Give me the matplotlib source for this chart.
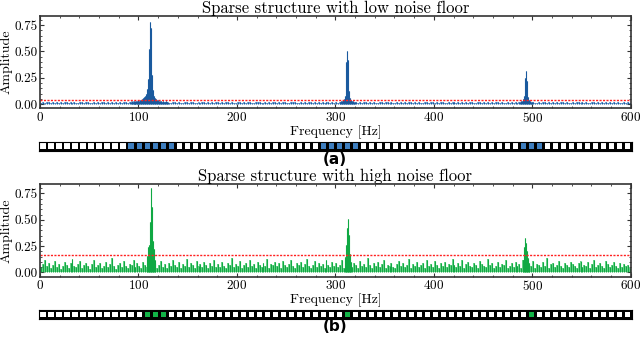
import numpy as np
import matplotlib
matplotlib.use("Agg")
import matplotlib.pyplot as plt
from matplotlib.ticker import MultipleLocator

# ---- data ---------------------------------------------------------------
NOISE_STEP = 2  # Hz per noise bar

# low-noise spectrum floor (amplitude * 1000), 0..598 Hz
NOISE_A = [
    14, 18, 12, 20, 16, 11, 19, 15, 22, 13, 17, 12, 18, 21, 14, 16, 10, 19, 15, 13, 20, 17, 12, 16, 23, 14, 11, 18, 15, 19,
    13, 17, 21, 12, 16, 14, 19, 11, 18, 15, 22, 13, 17, 20, 12, 16, 14, 18, 24, 15, 12, 19, 16, 13, 21, 17, 14, 18, 12, 20,
    15, 13, 19, 16, 22, 14, 11, 18, 17, 13, 20, 15, 12, 19, 16, 14, 21, 18, 13, 15, 17, 12, 20, 16, 14, 19, 13, 18, 15, 22,
    16, 12, 18, 14, 20, 17, 13, 19, 15, 11, 21, 16, 14, 18, 12, 17, 20, 15, 13, 19, 16, 22, 14, 12, 18, 15, 17, 13, 20, 16,
    14, 19, 13, 17, 21, 15, 12, 18, 16, 20, 13, 15, 19, 14, 17, 12, 22, 16, 13, 18, 15, 20, 14, 17, 12, 19, 16, 13, 21, 15,
    17, 13, 20, 15, 12, 18, 16, 21, 14, 11, 19, 15, 17, 13, 22, 16, 12, 18, 14, 20, 15, 13, 19, 17, 12, 16, 21, 14, 18, 13,
    12, 18, 15, 21, 13, 17, 14, 19, 16, 12, 20, 14, 18, 15, 11, 19, 16, 13, 22, 17, 14, 18, 12, 16, 20, 15, 13, 19, 14, 17,
    19, 14, 16, 12, 20, 15, 18, 13, 17, 21, 14, 12, 19, 16, 13, 18, 15, 20, 12, 17, 14, 22, 16, 13, 19, 15, 11, 18, 14, 16,
    15, 20, 13, 18, 14, 16, 12, 21, 17, 13, 19, 15, 14, 18, 12, 20, 16, 13, 17, 15, 21, 12, 18, 14, 16, 19, 13, 17, 15, 12,
    18, 13, 16, 20, 14, 17, 12, 19, 15, 13, 21, 16, 14, 18, 12, 17, 15, 20, 13, 16, 14, 19, 12, 18, 15, 13, 17, 14, 16, 12,
]

# high-noise spectrum floor (amplitude * 100), 0..598 Hz
NOISE_B = [
    5, 8, 12, 6, 9, 4, 7, 11, 5, 8, 3, 6, 10, 7, 4, 9, 13, 6, 5, 8, 11, 4, 7, 9, 6, 3, 8, 12, 5, 7,
    9, 4, 6, 10, 5, 8, 14, 6, 3, 7, 9, 5, 11, 6, 4, 8, 7, 12, 5, 9, 6, 4, 10, 7, 5, 8, 13, 6, 9, 4,
    7, 11, 5, 8, 4, 9, 6, 12, 7, 5, 10, 4, 8, 6, 13, 5, 9, 7, 4, 11, 6, 8, 5, 10, 7, 4, 9, 6, 12, 5,
    8, 5, 10, 6, 4, 9, 7, 14, 5, 8, 6, 11, 4, 7, 9, 5, 12, 6, 8, 4, 10, 7, 5, 9, 6, 13, 4, 8, 7, 10,
    6, 9, 4, 11, 7, 5, 8, 12, 6, 4, 9, 7, 10, 5, 8, 13, 6, 4, 7, 11, 5, 9, 6, 8, 4, 12, 7, 5, 10, 6,
    9, 5, 7, 12, 4, 8, 6, 10, 5, 9, 7, 4, 11, 6, 8, 5, 14, 7, 4, 9, 6, 10, 5, 8, 12, 4, 7, 6, 9, 5,
    4, 8, 11, 6, 9, 5, 7, 13, 4, 8, 6, 10, 5, 7, 9, 4, 12, 6, 8, 5, 11, 7, 4, 9, 6, 10, 5, 8, 7, 13,
    7, 5, 9, 6, 12, 4, 8, 10, 6, 5, 9, 7, 4, 11, 8, 6, 5, 13, 7, 9, 4, 6, 10, 5, 8, 7, 12, 4, 6, 9,
    5, 10, 6, 8, 4, 12, 7, 5, 9, 6, 11, 4, 8, 7, 5, 10, 6, 14, 4, 8, 9, 5, 7, 11, 6, 4, 9, 7, 5, 10,
    8, 6, 4, 9, 11, 5, 7, 6, 10, 4, 8, 12, 5, 7, 9, 6, 4, 11, 8, 5, 7, 10, 6, 4, 9, 5, 8, 6, 7, 4,
]

# peaks at 1 Hz resolution
PEAK_FREQ_A = list(range(92, 131)) + list(range(305, 321)) + list(range(488, 501))
PEAK_AMP_A = [
    0.02, 0.03, 0.02, 0.03, 0.03, 0.02, 0.03, 0.03, 0.04, 0.03, 0.04, 0.04, 0.05, 0.06,
    0.07, 0.08, 0.10, 0.14, 0.24, 0.52, 0.78, 0.72, 0.28, 0.13, 0.08, 0.06, 0.05, 0.04,
    0.04, 0.03, 0.03, 0.03, 0.02, 0.03, 0.02, 0.02, 0.03, 0.02, 0.02,
    0.02, 0.03, 0.03, 0.04, 0.05, 0.08, 0.40, 0.50, 0.42, 0.12, 0.06, 0.04, 0.03, 0.03,
    0.02, 0.02,
    0.02, 0.03, 0.03, 0.05, 0.08, 0.25, 0.31, 0.22, 0.07, 0.04, 0.03, 0.02, 0.02,
]
PEAK_FREQ_B = list(range(109, 118)) + list(range(310, 317)) + list(range(491, 498))
PEAK_AMP_B = [
    0.16, 0.24, 0.26, 0.48, 0.80, 0.62, 0.30, 0.22, 0.12,
    0.15, 0.26, 0.42, 0.51, 0.36, 0.18, 0.10,
    0.12, 0.24, 0.33, 0.28, 0.20, 0.14, 0.08,
]

THRESH_A = 0.04
THRESH_B = 0.17

# support strip: 74 frequency bins, highlighted indices
N_BINS = 74
ACTIVE_A = [11, 12, 13, 14, 15, 16, 35, 36, 37, 38, 39, 60, 61, 62]
ACTIVE_B = [13, 14, 15, 38, 61]

TITLES = ["Sparse structure with low noise floor", "Sparse structure with high noise floor"]
X_TICKS = [0, 100, 200, 300, 400, 500, 600]
Y_TICKS = [0.0, 0.25, 0.5, 0.75]

BLUE_DARK = "#1a5a9e"
BLUE_LIGHT = "#4f8ccc"
BLUE_SQ = "#3f7fc0"
GREEN_DARK = "#10a843"
GREEN_LIGHT = "#3cc865"
GREEN_SQ = "#12b347"

plt.rcParams.update({
    "font.family": "cmr10",
    "mathtext.fontset": "cm",
    "axes.formatter.use_mathtext": True,
    "font.size": 10,
    "xtick.labelsize": 9.5,
    "ytick.labelsize": 9.5,
    "axes.linewidth": 1.2,
    "axes.edgecolor": "#333333",
})

fig = plt.figure(figsize=(6.4, 3.4), dpi=100)


def spectrum_panel(rect, noise, scale, pk_f, pk_a, thresh, dark, light, title):
    ax = fig.add_axes(rect)
    nf = np.arange(len(noise)) * NOISE_STEP
    na = np.array(noise) / scale
    ax.bar(nf + 1, na, width=NOISE_STEP, color=light, alpha=0.75, linewidth=0)
    ax.vlines(nf + 1, 0, na, color=dark, lw=0.8)
    ax.bar(pk_f, pk_a, width=1.0, color=light, alpha=0.6, linewidth=0)
    ax.vlines(pk_f, 0, pk_a, color=dark, lw=0.8)
    ax.axhline(thresh, color="#ff2020", lw=1.0, ls=(0, (1.5, 1)))
    ax.set_xlim(0, 600)
    ax.set_ylim(-0.04, 0.84)
    ax.set_xticks(X_TICKS)
    ax.set_yticks(Y_TICKS)
    ax.set_yticklabels([f"{v:.2f}" for v in Y_TICKS])
    ax.xaxis.set_minor_locator(MultipleLocator(20))
    ax.yaxis.set_minor_locator(MultipleLocator(0.05))
    ax.tick_params(which="both", direction="in", top=True, right=True,
                   color="#333333", pad=2)
    ax.tick_params(which="major", length=3)
    ax.tick_params(which="minor", length=1.5)
    ax.set_xlabel("Frequency [Hz]", labelpad=0)
    ax.set_ylabel("Amplitude", labelpad=1)
    ax.set_title(title, fontsize=12, pad=1)
    return ax


def support_strip(rect, active, color):
    ax = fig.add_axes(rect)
    ax.set_facecolor("black")
    cols = [color if i in active else "white" for i in range(N_BINS)]
    ax.bar(np.arange(N_BINS) + 0.5, 0.62, bottom=0.19, width=0.66,
           color=cols, linewidth=0)
    ax.set_xlim(0, N_BINS)
    ax.set_ylim(0, 1)
    ax.set_xticks([])
    ax.set_yticks([])
    for s in ax.spines.values():
        s.set_color("black")
        s.set_linewidth(0.8)
    return ax


spectrum_panel([0.0625, 0.6815, 0.923, 0.2723], NOISE_A, 1000.0,
               PEAK_FREQ_A, PEAK_AMP_A, THRESH_A, BLUE_DARK, BLUE_LIGHT, TITLES[0])
support_strip([0.061, 0.5568, 0.926, 0.0265], ACTIVE_A, BLUE_SQ)

spectrum_panel([0.0625, 0.1862, 0.923, 0.2726], NOISE_B, 100.0,
               PEAK_FREQ_B, PEAK_AMP_B, THRESH_B, GREEN_DARK, GREEN_LIGHT, TITLES[1])
support_strip([0.061, 0.0632, 0.926, 0.025], ACTIVE_B, GREEN_SQ)

fig.text(0.523, 0.532, "(a)", ha="center", va="center", fontsize=11,
         fontweight="bold", family="DejaVu Sans")
fig.text(0.523, 0.040, "(b)", ha="center", va="center", fontsize=11,
         fontweight="bold", family="DejaVu Sans")

fig.savefig("out.png", dpi=100)
plt.close()
